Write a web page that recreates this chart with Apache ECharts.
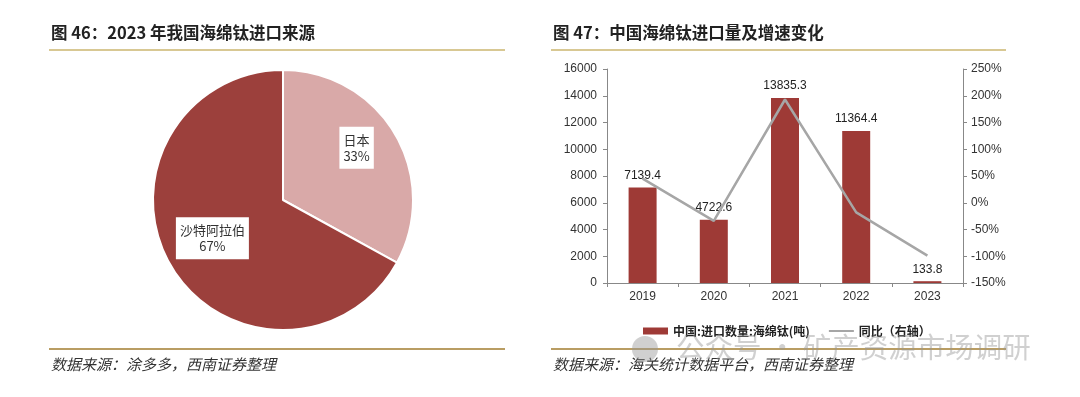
<!DOCTYPE html>
<html>
<head>
<meta charset="utf-8">
<script src="https://cdn.jsdelivr.net/npm/echarts@6/dist/echarts.min.js"></script>
<style>
  html, body { margin: 0; padding: 0; background: #fff; }
  #main { width: 1080px; height: 397px; }
</style>
</head>
<body>
<div id="main"></div>
<script>
// 图46 数据
var pieNames = ['日本', '沙特阿拉伯'];
var pieValues = [33, 67];
var pieColors = ['#d9a9a8', '#9c403c'];
// 图47 数据
var years = ['2019', '2020', '2021', '2022', '2023'];
var importTons = [7139.4, 4722.6, 13835.3, 11364.4, 133.8];
var yoyPct = [45, -33.9, 193, -17.9, -98.8];
var barName = '中国:进口数量:海绵钛(吨)';
var lineName = '同比（右轴）';

var cjk = '"Noto Sans CJK SC", "Liberation Sans", sans-serif';
var num = '"Liberation Sans", Arial, sans-serif';

var pieData = pieNames.map(function (n, i) {
  return { name: n, value: pieValues[i], itemStyle: { color: pieColors[i] } };
});

var chart = echarts.init(document.getElementById('main'));
var option = {
  animation: false,
  textStyle: { fontFamily: num },
  legend: {
    left: 638,
    top: 320,
    itemWidth: 25,
    itemHeight: 7,
    itemGap: 18,
    textStyle: { fontFamily: cjk, fontSize: 12, color: '#222', fontWeight: 'bold' },
    data: [
      { name: barName, icon: 'rect' },
      { name: lineName, itemStyle: { opacity: 0 } }
    ]
  },
  grid: { left: 607, right: 117, top: 69, bottom: 114 },
  xAxis: {
    type: 'category',
    data: years,
    axisLine: { lineStyle: { color: '#888' } },
    axisTick: { show: true, length: 4, lineStyle: { color: '#888' } },
    axisLabel: { color: '#333', fontSize: 12, margin: 8 }
  },
  yAxis: [{
    type: 'value',
    min: 0, max: 16000, interval: 2000,
    axisLine: { show: true, lineStyle: { color: '#888' } },
    axisTick: { show: true, length: 4, lineStyle: { color: '#888' } },
    axisLabel: { color: '#333', fontSize: 12, margin: 10, formatter: function (v) { return String(v); } },
    splitLine: { show: false }
  }, {
    type: 'value',
    min: -150, max: 250, interval: 50,
    position: 'right',
    axisLine: { show: true, lineStyle: { color: '#888' } },
    axisTick: { show: true, length: 4, lineStyle: { color: '#888' } },
    axisLabel: { color: '#333', fontSize: 12, margin: 8, formatter: '{value}%' },
    splitLine: { show: false }
  }],
  series: [{
    type: 'pie',
    center: [283, 200],
    radius: [0, 130],
    startAngle: 90,
    clockwise: true,
    silent: true,
    label: { show: false },
    labelLine: { show: false },
    itemStyle: { borderColor: '#fff', borderWidth: 2 },
    data: pieData
  }, {
    // 只用于放置标签的透明环
    type: 'pie',
    center: [283, 200],
    radius: [42, 130],
    startAngle: 90,
    silent: true,
    z: 5,
    itemStyle: { color: 'rgba(0,0,0,0)', borderWidth: 0 },
    label: {
      show: true,
      position: 'inside',
      formatter: '{b}\n{d}%',
      backgroundColor: '#fff',
      padding: [5, 4],
      fontFamily: cjk,
      fontSize: 13,
      lineHeight: 16,
      color: '#333'
    },
    labelLayout: function (p) {
      return { dy: -7, dx: p.dataIndex === 1 ? 6 : -3 };
    },
    labelLine: { show: false },
    data: pieNames.map(function (n, i) { return { name: n, value: pieValues[i] }; })
  }, {
    name: barName,
    type: 'bar',
    barWidth: 28,
    itemStyle: { color: '#9e3a36' },
    label: { show: true, position: 'top', distance: 6, color: '#222', fontSize: 12 },
    data: importTons
  }, {
    name: lineName,
    type: 'line',
    yAxisIndex: 1,
    symbol: 'none',
    z: 3,
    lineStyle: { color: '#a6a6a6', width: 2.5 },
    itemStyle: { color: '#a6a6a6' },
    data: yoyPct
  }],
  graphic: [
    // 标题
    { type: 'text', left: 51, top: 24, style: { text: '图 46：2023 年我国海绵钛进口来源', font: 'bold 16.5px ' + cjk, fill: '#222' } },
    { type: 'text', left: 553, top: 24, style: { text: '图 47：中国海绵钛进口量及增速变化', font: 'bold 16.5px ' + cjk, fill: '#222' } },
    // 分隔线
    { type: 'line', shape: { x1: 49, y1: 50, x2: 505, y2: 50 }, style: { stroke: '#d8c893', lineWidth: 2 } },
    { type: 'line', shape: { x1: 551, y1: 50, x2: 1006, y2: 50 }, style: { stroke: '#d8c893', lineWidth: 2 } },
    { type: 'line', shape: { x1: 49, y1: 349, x2: 505, y2: 349 }, style: { stroke: '#b99d63', lineWidth: 2 } },
    { type: 'line', shape: { x1: 551, y1: 349, x2: 1006, y2: 349 }, style: { stroke: '#b99d63', lineWidth: 2 } },
    // 数据来源
    { type: 'text', left: 51, top: 357, style: { text: '数据来源：涂多多，西南证券整理', font: 'italic 15px ' + cjk, fill: '#333' } },
    { type: 'text', left: 553, top: 357, style: { text: '数据来源：海关统计数据平台，西南证券整理', font: 'italic 15px ' + cjk, fill: '#333' } },
    // 水印
    { type: 'circle', shape: { cx: 645, cy: 349, r: 13 }, style: { fill: 'rgba(150,150,150,0.45)' }, z: 20 },
    { type: 'text', left: 676, top: 333, z: 20, style: { text: '公众号 · 矿产资源市场调研', font: '28.5px ' + cjk, fill: 'rgba(150,150,150,0.45)' } }
  ]
};
chart.setOption(option);
</script>
</body>
</html>
